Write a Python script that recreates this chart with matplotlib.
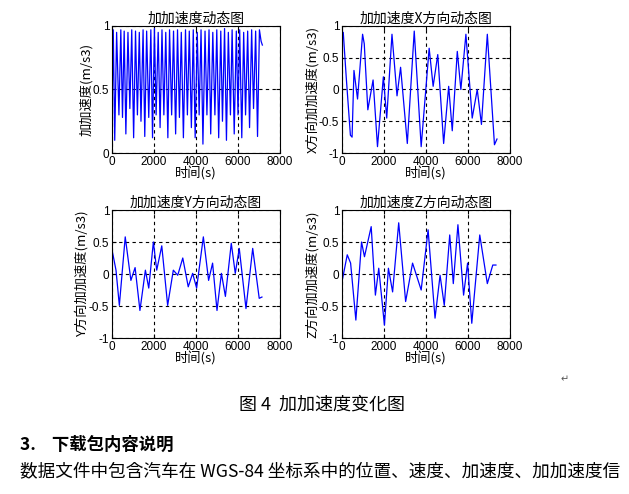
import matplotlib
matplotlib.use("Agg")
import matplotlib.pyplot as plt

plt.rcParams['font.family'] = ['Liberation Sans', 'Noto Sans CJK JP']
plt.rcParams['axes.unicode_minus'] = False
CJK = 'Noto Sans CJK JP'

# Jerk magnitude (top-left)
t_mag = [0, 60, 130, 220, 330, 420, 500, 580, 660, 760, 850, 940, 1030, 1120, 1210, 1300, 1380, 1480,
         1560, 1650, 1750, 1850, 1930, 2020, 2100, 2200, 2290, 2380, 2470, 2560, 2660, 2740, 2840, 2930,
         3030, 3120, 3210, 3300, 3400, 3500, 3590, 3680, 3780, 3870, 3960, 4060, 4150, 4240, 4330, 4430,
         4520, 4620, 4700, 4800, 4900, 4990, 5080, 5180, 5260, 5360, 5450, 5540, 5640, 5720, 5820, 5920,
         6000, 6080, 6180, 6270, 6360, 6460, 6550, 6650, 6740, 6840, 6930, 7020, 7100, 7160]
v_mag = [0.3, 0.97, 0.1, 0.95, 0.3, 0.97, 0.28, 0.96, 0.15, 0.95, 0.35, 0.97, 0.12, 0.96, 0.3, 0.95,
         0.25, 0.97, 0.13, 0.96, 0.28, 0.97, 0.12, 0.98, 0.3, 0.95, 0.2, 0.97, 0.3, 0.95, 0.12, 0.97,
         0.3, 0.96, 0.15, 0.97, 0.28, 0.95, 0.12, 0.97, 0.3, 0.96, 0.2, 0.97, 0.12, 0.95, 0.3, 0.97,
         0.07, 0.96, 0.3, 0.97, 0.15, 0.95, 0.3, 0.97, 0.12, 0.96, 0.25, 0.98, 0.1, 0.95, 0.3, 0.97,
         0.15, 0.96, 0.3, 0.97, 0.12, 0.95, 0.3, 0.96, 0.2, 0.97, 0.35, 0.96, 0.13, 0.97, 0.88, 0.85]

# X direction
t_x = [0, 60, 200, 400, 480, 570, 740, 980, 1060, 1230, 1480, 1690, 1970, 2130, 2380, 2620, 2790, 3110,
       3440, 3770, 4150, 4340, 4560, 4840, 5080, 5250, 5490, 5660, 5900, 6200, 6440, 6640, 6920, 7260, 7380]
v_x = [0.8, 0.9, 0.2, -0.72, -0.75, 0.3, -0.15, 0.87, 0.72, -0.32, 0.15, -0.9, 0.2, -0.45, 0.87, -0.1,
       0.35, -0.85, 0.92, -0.9, 0.65, 0.05, 0.55, -0.85, 0.05, -0.65, 0.6, 0.0, 0.87, -0.45, 0.0, -0.55,
       0.87, -0.87, -0.78]

# Y direction
t_y = [0, 190, 350, 630, 900, 1100, 1330, 1590, 1750, 1970, 2130, 2370, 2650, 2920, 3130, 3370, 3630,
       3840, 4030, 4350, 4600, 4790, 5000, 5210, 5400, 5680, 5870, 6060, 6380, 6700, 7010, 7140]
v_y = [0.38, 0.06, -0.49, 0.58, -0.1, 0.1, -0.57, 0.06, -0.22, 0.5, 0.06, 0.44, -0.49, 0.06, -0.02, 0.25,
       -0.2, 0.01, -0.22, 0.58, -0.1, 0.17, -0.57, 0.01, -0.35, 0.48, 0.01, 0.4, -0.54, 0.4, -0.38, -0.36]

# Z direction
t_z = [0, 250, 410, 660, 930, 1070, 1390, 1590, 1750, 2020, 2210, 2410, 2700, 3030, 3360, 3770, 4100,
       4430, 4670, 4870, 5130, 5300, 5520, 5790, 5980, 6180, 6560, 6920, 7180, 7330]
v_z = [-0.12, 0.3, 0.17, -0.72, 0.5, 0.27, 0.74, -0.33, 0.09, -0.8, 0.09, -0.28, 0.8, -0.43, 0.17, -0.25,
       0.69, -0.69, -0.02, -0.49, 0.61, -0.15, 0.77, -0.33, 0.17, -0.77, 0.61, -0.15, 0.14, 0.14]

titles = ['加加速度动态图', '加加速度X方向动态图', '加加速度Y方向动态图', '加加速度Z方向动态图']
ylabels = ['加加速度(m/s3)', 'X方向加加速度(m/s3)', 'Y方向加加速度(m/s3)', 'Z方向加加速度(m/s3)']
xlabel = '时间(s)'
xticks = [0, 2000, 4000, 6000, 8000]

fig = plt.figure(figsize=(6.29, 4.94), dpi=100)
W, H = 629, 494
boxes = [(112, 26, 280, 153), (342, 26, 510, 153), (112, 210, 280, 338), (342, 210, 510, 338)]
data = [(t_mag, v_mag), (t_x, v_x), (t_y, v_y), (t_z, v_z)]
for i, ((x0, y0, x1, y1), (t, v)) in enumerate(zip(boxes, data)):
    ax = fig.add_axes([x0 / W, 1 - y1 / H, (x1 - x0) / W, (y1 - y0) / H])
    ax.plot(t, v, color='blue', lw=0.9)
    ax.set_xlim(0, 8000)
    if i == 0:
        ax.set_ylim(0, 1)
        ax.set_yticks([0, 0.5, 1])
        ax.set_yticklabels(['0', '0.5', '1'])
    else:
        ax.set_ylim(-1, 1)
        ax.set_yticks([-1, -0.5, 0, 0.5, 1])
        ax.set_yticklabels(['-1', '-0.5', '0', '0.5', '1'])
    ax.set_xticks(xticks)
    ax.grid(True, color='black', linestyle=(0, (3, 3)), lw=0.8)
    ax.tick_params(labelsize=8.5, direction='in', length=3, pad=2, top=True, right=True)
    ax.set_title(titles[i], fontsize=10, pad=2, family=CJK)
    ax.set_xlabel(xlabel, fontsize=9.5, labelpad=-1, family=CJK)
    ax.set_ylabel(ylabels[i], fontsize=9.5, labelpad=0, family=CJK)
    for s in ax.spines.values():
        s.set_linewidth(0.8)

fig.text(565 / W, 1 - 379 / H, '↵', fontsize=7, color='#555555', ha='center', va='center', family='DejaVu Sans')
fig.text(322 / W, 1 - 405 / H, '图 4  加加速度变化图', fontsize=13, ha='center', va='center', family=CJK)
fig.text(20 / W, 1 - 445 / H, '3.    下载包内容说明', fontsize=12.5, fontweight='bold', ha='left', va='center', family=CJK)
fig.text(20 / W, 1 - 471 / H, '数据文件中包含汽车在 WGS-84 坐标系中的位置、速度、加速度、加加速度信',
         fontsize=12.7, ha='left', va='center', family=CJK)

fig.savefig('out.png', dpi=100)
